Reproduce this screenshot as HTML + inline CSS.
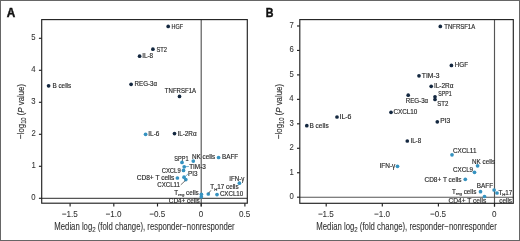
<!DOCTYPE html>
<html><head><meta charset="utf-8"><style>
html,body{margin:0;padding:0;background:#fff;}
svg{display:block;will-change:transform;font-family:"Liberation Sans",sans-serif;}
text{stroke:currentColor;stroke-width:0.16px;}
</style></head><body>
<svg width="520" height="241" viewBox="0 0 520 241">
<rect x="0.5" y="0.5" width="519" height="240" fill="none" stroke="#666" stroke-width="1"/>
<text font-weight="bold" style="stroke-width:0.45px" x="6.71" y="16.60" font-size="12" fill="#111" color="#111" textLength="8.50" lengthAdjust="spacingAndGlyphs">A</text>
<text font-weight="bold" style="stroke-width:0.45px" x="265.79" y="16.60" font-size="12" fill="#111" color="#111" textLength="7.70" lengthAdjust="spacingAndGlyphs">B</text>
<line x1="41.7" y1="198.3" x2="247.3" y2="198.3" stroke="#555" stroke-width="1.15"/>
<line x1="201.2" y1="19.6" x2="201.2" y2="206.5" stroke="#555" stroke-width="1.15"/>
<rect x="41.7" y="19.6" width="205.60" height="183.60" fill="none" stroke="#222" stroke-width="1.15"/>
<line x1="38.900000000000006" y1="198.3" x2="41.7" y2="198.3" stroke="#222" stroke-width="1.15"/>
<text style="stroke-width:0.08px" x="31.30" y="200.30" font-size="9" fill="#333" color="#333" textLength="4.30" lengthAdjust="spacingAndGlyphs">0</text>
<line x1="38.900000000000006" y1="166.3" x2="41.7" y2="166.3" stroke="#222" stroke-width="1.15"/>
<text style="stroke-width:0.08px" x="31.38" y="168.30" font-size="9" fill="#333" color="#333" textLength="4.30" lengthAdjust="spacingAndGlyphs">1</text>
<line x1="38.900000000000006" y1="134.3" x2="41.7" y2="134.3" stroke="#222" stroke-width="1.15"/>
<text style="stroke-width:0.08px" x="31.38" y="136.30" font-size="9" fill="#333" color="#333" textLength="4.30" lengthAdjust="spacingAndGlyphs">2</text>
<line x1="38.900000000000006" y1="102.30000000000001" x2="41.7" y2="102.30000000000001" stroke="#222" stroke-width="1.15"/>
<text style="stroke-width:0.08px" x="31.34" y="104.30" font-size="9" fill="#333" color="#333" textLength="4.30" lengthAdjust="spacingAndGlyphs">3</text>
<line x1="38.900000000000006" y1="70.30000000000001" x2="41.7" y2="70.30000000000001" stroke="#222" stroke-width="1.15"/>
<text style="stroke-width:0.08px" x="31.22" y="72.30" font-size="9" fill="#333" color="#333" textLength="4.30" lengthAdjust="spacingAndGlyphs">4</text>
<line x1="38.900000000000006" y1="38.30000000000001" x2="41.7" y2="38.30000000000001" stroke="#222" stroke-width="1.15"/>
<text style="stroke-width:0.08px" x="31.32" y="40.30" font-size="9" fill="#333" color="#333" textLength="4.30" lengthAdjust="spacingAndGlyphs">5</text>
<line x1="70.09999999999997" y1="203.2" x2="70.09999999999997" y2="206.5" stroke="#222" stroke-width="1.15"/>
<text style="stroke-width:0.08px" x="61.78" y="216.80" font-size="9" fill="#333" color="#333" textLength="15.99" lengthAdjust="spacingAndGlyphs">−1.5</text>
<line x1="113.79999999999998" y1="203.2" x2="113.79999999999998" y2="206.5" stroke="#222" stroke-width="1.15"/>
<text style="stroke-width:0.08px" x="105.46" y="216.80" font-size="9" fill="#333" color="#333" textLength="15.99" lengthAdjust="spacingAndGlyphs">−1.0</text>
<line x1="157.5" y1="203.2" x2="157.5" y2="206.5" stroke="#222" stroke-width="1.15"/>
<text style="stroke-width:0.08px" x="149.18" y="216.80" font-size="9" fill="#333" color="#333" textLength="15.99" lengthAdjust="spacingAndGlyphs">−0.5</text>
<line x1="201.2" y1="203.2" x2="201.2" y2="206.5" stroke="#222" stroke-width="1.15"/>
<text style="stroke-width:0.08px" x="198.65" y="216.80" font-size="9" fill="#333" color="#333" textLength="4.50" lengthAdjust="spacingAndGlyphs">0</text>
<line x1="244.89999999999998" y1="203.2" x2="244.89999999999998" y2="206.5" stroke="#222" stroke-width="1.15"/>
<text style="stroke-width:0.08px" x="238.98" y="216.80" font-size="9" fill="#333" color="#333" textLength="11.26" lengthAdjust="spacingAndGlyphs">0.5</text>
<text x="54.30" y="229.7" font-size="10.2" fill="#333" color="#333" style="stroke-width:0.1px" textLength="180.4" lengthAdjust="spacingAndGlyphs">Median log<tspan font-size="8" dy="2.4">2</tspan><tspan dy="-2.4"> (fold change), responder−nonresponder</tspan></text>
<g transform="translate(24.0,111.40) rotate(-90)"><text x="-27.5" y="0" font-size="9.6" fill="#333" color="#333" textLength="55" lengthAdjust="spacingAndGlyphs">−log<tspan font-size="7" dy="2.1">10</tspan><tspan dy="-2.1"> (</tspan><tspan font-style="italic">P</tspan> value)</text></g>
<line x1="299.8" y1="197.2" x2="513.3" y2="197.2" stroke="#555" stroke-width="1.15"/>
<line x1="494.5" y1="19.6" x2="494.5" y2="206.60000000000002" stroke="#555" stroke-width="1.15"/>
<rect x="299.8" y="19.6" width="213.50" height="183.70" fill="none" stroke="#222" stroke-width="1.15"/>
<line x1="297.0" y1="197.2" x2="299.8" y2="197.2" stroke="#222" stroke-width="1.15"/>
<text style="stroke-width:0.08px" x="289.40" y="199.20" font-size="9" fill="#333" color="#333" textLength="4.30" lengthAdjust="spacingAndGlyphs">0</text>
<line x1="297.0" y1="172.73999999999998" x2="299.8" y2="172.73999999999998" stroke="#222" stroke-width="1.15"/>
<text style="stroke-width:0.08px" x="289.48" y="174.74" font-size="9" fill="#333" color="#333" textLength="4.30" lengthAdjust="spacingAndGlyphs">1</text>
<line x1="297.0" y1="148.27999999999997" x2="299.8" y2="148.27999999999997" stroke="#222" stroke-width="1.15"/>
<text style="stroke-width:0.08px" x="289.48" y="150.28" font-size="9" fill="#333" color="#333" textLength="4.30" lengthAdjust="spacingAndGlyphs">2</text>
<line x1="297.0" y1="123.82" x2="299.8" y2="123.82" stroke="#222" stroke-width="1.15"/>
<text style="stroke-width:0.08px" x="289.44" y="125.82" font-size="9" fill="#333" color="#333" textLength="4.30" lengthAdjust="spacingAndGlyphs">3</text>
<line x1="297.0" y1="99.35999999999999" x2="299.8" y2="99.35999999999999" stroke="#222" stroke-width="1.15"/>
<text style="stroke-width:0.08px" x="289.32" y="101.36" font-size="9" fill="#333" color="#333" textLength="4.30" lengthAdjust="spacingAndGlyphs">4</text>
<line x1="297.0" y1="74.89999999999998" x2="299.8" y2="74.89999999999998" stroke="#222" stroke-width="1.15"/>
<text style="stroke-width:0.08px" x="289.42" y="76.90" font-size="9" fill="#333" color="#333" textLength="4.30" lengthAdjust="spacingAndGlyphs">5</text>
<line x1="297.0" y1="50.44" x2="299.8" y2="50.44" stroke="#222" stroke-width="1.15"/>
<text style="stroke-width:0.08px" x="289.44" y="52.44" font-size="9" fill="#333" color="#333" textLength="4.30" lengthAdjust="spacingAndGlyphs">6</text>
<line x1="297.0" y1="25.97999999999999" x2="299.8" y2="25.97999999999999" stroke="#222" stroke-width="1.15"/>
<text style="stroke-width:0.08px" x="289.48" y="27.98" font-size="9" fill="#333" color="#333" textLength="4.30" lengthAdjust="spacingAndGlyphs">7</text>
<line x1="326.2" y1="203.3" x2="326.2" y2="206.60000000000002" stroke="#222" stroke-width="1.15"/>
<text style="stroke-width:0.08px" x="317.88" y="216.80" font-size="9" fill="#333" color="#333" textLength="15.99" lengthAdjust="spacingAndGlyphs">−1.5</text>
<line x1="382.3" y1="203.3" x2="382.3" y2="206.60000000000002" stroke="#222" stroke-width="1.15"/>
<text style="stroke-width:0.08px" x="373.96" y="216.80" font-size="9" fill="#333" color="#333" textLength="15.99" lengthAdjust="spacingAndGlyphs">−1.0</text>
<line x1="438.4" y1="203.3" x2="438.4" y2="206.60000000000002" stroke="#222" stroke-width="1.15"/>
<text style="stroke-width:0.08px" x="430.08" y="216.80" font-size="9" fill="#333" color="#333" textLength="15.99" lengthAdjust="spacingAndGlyphs">−0.5</text>
<line x1="494.5" y1="203.3" x2="494.5" y2="206.60000000000002" stroke="#222" stroke-width="1.15"/>
<text style="stroke-width:0.08px" x="491.95" y="216.80" font-size="9" fill="#333" color="#333" textLength="4.50" lengthAdjust="spacingAndGlyphs">0</text>
<text x="316.35" y="229.7" font-size="10.2" fill="#333" color="#333" style="stroke-width:0.1px" textLength="180.4" lengthAdjust="spacingAndGlyphs">Median log<tspan font-size="8" dy="2.4">2</tspan><tspan dy="-2.4"> (fold change), responder−nonresponder</tspan></text>
<g transform="translate(281.6,111.45) rotate(-90)"><text x="-27.5" y="0" font-size="9.6" fill="#333" color="#333" textLength="55" lengthAdjust="spacingAndGlyphs">−log<tspan font-size="7" dy="2.1">10</tspan><tspan dy="-2.1"> (</tspan><tspan font-style="italic">P</tspan> value)</text></g>
<text x="171.55" y="28.60" font-size="6.3" fill="#2b2b2b" color="#2b2b2b" textLength="11.57" lengthAdjust="spacingAndGlyphs">HGF</text>
<text x="156.44" y="51.60" font-size="6.3" fill="#2b2b2b" color="#2b2b2b" textLength="10.55" lengthAdjust="spacingAndGlyphs">ST2</text>
<text x="142.21" y="58.30" font-size="6.3" fill="#2b2b2b" color="#2b2b2b" textLength="10.96" lengthAdjust="spacingAndGlyphs">IL-8</text>
<text x="52.48" y="88.00" font-size="6.3" fill="#2b2b2b" color="#2b2b2b" textLength="18.65" lengthAdjust="spacingAndGlyphs">B cells</text>
<text x="134.59" y="86.10" font-size="6.3" fill="#2b2b2b" color="#2b2b2b" textLength="22.49" lengthAdjust="spacingAndGlyphs">REG-3α</text>
<text x="164.87" y="93.10" font-size="6.3" fill="#2b2b2b" color="#2b2b2b" textLength="31.25" lengthAdjust="spacingAndGlyphs">TNFRSF1A</text>
<text x="148.30" y="136.40" font-size="6.3" fill="#2b2b2b" color="#2b2b2b" textLength="11.18" lengthAdjust="spacingAndGlyphs">IL-6</text>
<text x="177.42" y="135.70" font-size="6.3" fill="#2b2b2b" color="#2b2b2b" textLength="19.17" lengthAdjust="spacingAndGlyphs">IL-2Rα</text>
<text x="174.24" y="160.50" font-size="6.3" fill="#2b2b2b" color="#2b2b2b" textLength="14.33" lengthAdjust="spacingAndGlyphs">SPP1</text>
<text x="191.98" y="158.60" font-size="6.3" fill="#2b2b2b" color="#2b2b2b" textLength="23.14" lengthAdjust="spacingAndGlyphs">NK cells</text>
<text x="222.08" y="159.30" font-size="6.3" fill="#2b2b2b" color="#2b2b2b" textLength="16.06" lengthAdjust="spacingAndGlyphs">BAFF</text>
<text x="189.16" y="168.70" font-size="6.3" fill="#2b2b2b" color="#2b2b2b" textLength="16.72" lengthAdjust="spacingAndGlyphs">TIM-3</text>
<text x="161.70" y="172.50" font-size="6.3" fill="#2b2b2b" color="#2b2b2b" textLength="18.97" lengthAdjust="spacingAndGlyphs">CXCL9</text>
<text x="187.98" y="175.50" font-size="6.3" fill="#2b2b2b" color="#2b2b2b" textLength="9.50" lengthAdjust="spacingAndGlyphs">PI3</text>
<text x="136.66" y="179.90" font-size="6.3" fill="#2b2b2b" color="#2b2b2b" textLength="37.68" lengthAdjust="spacingAndGlyphs">CD8+ T cells</text>
<text x="157.29" y="187.10" font-size="6.3" fill="#2b2b2b" color="#2b2b2b" textLength="22.61" lengthAdjust="spacingAndGlyphs">CXCL11</text>
<text x="168.77" y="203.00" font-size="6.3" fill="#2b2b2b" color="#2b2b2b" textLength="31.05" lengthAdjust="spacingAndGlyphs">CD4+ cells</text>
<text x="219.88" y="196.30" font-size="6.3" fill="#2b2b2b" color="#2b2b2b" textLength="23.35" lengthAdjust="spacingAndGlyphs">CXCL10</text>
<text x="229.33" y="180.60" font-size="6.3" fill="#2b2b2b" color="#2b2b2b" textLength="15.09" lengthAdjust="spacingAndGlyphs">IFN-γ</text>
<text x="444.27" y="28.50" font-size="6.3" fill="#2b2b2b" color="#2b2b2b" textLength="30.94" lengthAdjust="spacingAndGlyphs">TNFRSF1A</text>
<text x="454.78" y="67.00" font-size="6.3" fill="#2b2b2b" color="#2b2b2b" textLength="13.27" lengthAdjust="spacingAndGlyphs">HGF</text>
<text x="421.85" y="77.60" font-size="6.3" fill="#2b2b2b" color="#2b2b2b" textLength="17.54" lengthAdjust="spacingAndGlyphs">TIM-3</text>
<text x="433.91" y="88.00" font-size="6.3" fill="#2b2b2b" color="#2b2b2b" textLength="19.48" lengthAdjust="spacingAndGlyphs">IL-2Rα</text>
<text x="438.26" y="96.00" font-size="6.3" fill="#2b2b2b" color="#2b2b2b" textLength="13.40" lengthAdjust="spacingAndGlyphs">SPP1</text>
<text x="437.22" y="105.50" font-size="6.3" fill="#2b2b2b" color="#2b2b2b" textLength="11.08" lengthAdjust="spacingAndGlyphs">ST2</text>
<text x="405.69" y="102.80" font-size="6.3" fill="#2b2b2b" color="#2b2b2b" textLength="22.49" lengthAdjust="spacingAndGlyphs">REG-3α</text>
<text x="393.38" y="114.40" font-size="6.3" fill="#2b2b2b" color="#2b2b2b" textLength="23.87" lengthAdjust="spacingAndGlyphs">CXCL10</text>
<text x="339.46" y="119.30" font-size="6.3" fill="#2b2b2b" color="#2b2b2b" textLength="12.05" lengthAdjust="spacingAndGlyphs">IL-6</text>
<text x="309.47" y="128.00" font-size="6.3" fill="#2b2b2b" color="#2b2b2b" textLength="19.17" lengthAdjust="spacingAndGlyphs">B cells</text>
<text x="440.25" y="123.20" font-size="6.3" fill="#2b2b2b" color="#2b2b2b" textLength="10.04" lengthAdjust="spacingAndGlyphs">PI3</text>
<text x="410.43" y="142.80" font-size="6.3" fill="#2b2b2b" color="#2b2b2b" textLength="10.74" lengthAdjust="spacingAndGlyphs">IL-8</text>
<text x="452.98" y="153.10" font-size="6.3" fill="#2b2b2b" color="#2b2b2b" textLength="23.44" lengthAdjust="spacingAndGlyphs">CXCL11</text>
<text x="379.40" y="167.50" font-size="6.3" fill="#2b2b2b" color="#2b2b2b" textLength="15.92" lengthAdjust="spacingAndGlyphs">IFN-γ</text>
<text x="472.08" y="163.50" font-size="6.3" fill="#2b2b2b" color="#2b2b2b" textLength="23.04" lengthAdjust="spacingAndGlyphs">NK cells</text>
<text x="452.98" y="171.50" font-size="6.3" fill="#2b2b2b" color="#2b2b2b" textLength="20.11" lengthAdjust="spacingAndGlyphs">CXCL9</text>
<text x="424.47" y="181.50" font-size="6.3" fill="#2b2b2b" color="#2b2b2b" textLength="37.07" lengthAdjust="spacingAndGlyphs">CD8+ T cells</text>
<text x="476.78" y="187.60" font-size="6.3" fill="#2b2b2b" color="#2b2b2b" textLength="16.27" lengthAdjust="spacingAndGlyphs">BAFF</text>
<text x="499.23" y="202.60" font-size="6.3" fill="#2b2b2b" color="#2b2b2b" textLength="12.80" lengthAdjust="spacingAndGlyphs">cells</text>
<text x="448.46" y="202.80" font-size="6.3" fill="#2b2b2b" color="#2b2b2b" textLength="37.78" lengthAdjust="spacingAndGlyphs">CD4+ T cells</text>
<text x="174.3" y="194.8" font-size="6.3" fill="#2b2b2b" color="#2b2b2b">T<tspan font-size="4.3" dy="1.6">reg</tspan><tspan dy="-1.6"> cells</tspan></text>
<text x="210.3" y="189.1" font-size="6.3" fill="#2b2b2b" color="#2b2b2b">T<tspan font-size="4.3" dy="1.6">H</tspan><tspan dy="-1.6">17 cells</tspan></text>
<text x="451.9" y="193.8" font-size="6.3" fill="#2b2b2b" color="#2b2b2b">T<tspan font-size="4.3" dy="1.6">reg</tspan><tspan dy="-1.6"> cells</tspan></text>
<text x="498.4" y="194.5" font-size="6.3" fill="#2b2b2b" color="#2b2b2b">T<tspan font-size="4.3" dy="1.6">H</tspan><tspan dy="-1.6">17</tspan></text>
<circle cx="168.2" cy="26.4" r="1.85" fill="#142840"/>
<circle cx="152.9" cy="49.2" r="1.85" fill="#142840"/>
<circle cx="139.6" cy="56.2" r="1.85" fill="#142840"/>
<circle cx="48.6" cy="85.8" r="1.85" fill="#142840"/>
<circle cx="131.1" cy="84.3" r="1.85" fill="#142840"/>
<circle cx="179.5" cy="96.4" r="1.85" fill="#142840"/>
<circle cx="145.6" cy="134.3" r="1.85" fill="#3592c0"/>
<circle cx="174.5" cy="133.6" r="1.85" fill="#142840"/>
<circle cx="182.0" cy="162.4" r="1.85" fill="#3592c0"/>
<circle cx="193.3" cy="161.1" r="1.85" fill="#3592c0"/>
<circle cx="218.6" cy="157.5" r="1.85" fill="#3592c0"/>
<circle cx="184.2" cy="166.8" r="1.85" fill="#3592c0"/>
<circle cx="183.5" cy="170.4" r="1.85" fill="#3592c0"/>
<circle cx="184.0" cy="177.2" r="1.85" fill="#3592c0"/>
<circle cx="185.8" cy="179.6" r="1.85" fill="#3592c0"/>
<circle cx="177.4" cy="178.0" r="1.85" fill="#3592c0"/>
<circle cx="201.4" cy="194.3" r="1.85" fill="#3592c0"/>
<circle cx="201.3" cy="196.8" r="1.85" fill="#3592c0"/>
<circle cx="208.3" cy="194.0" r="1.85" fill="#3592c0"/>
<circle cx="217.0" cy="194.6" r="1.85" fill="#3592c0"/>
<circle cx="239.4" cy="183.2" r="1.85" fill="#3592c0"/>
<circle cx="440.3" cy="26.4" r="1.85" fill="#142840"/>
<circle cx="451.4" cy="65.4" r="1.85" fill="#142840"/>
<circle cx="419.0" cy="75.8" r="1.85" fill="#142840"/>
<circle cx="431.2" cy="86.3" r="1.85" fill="#142840"/>
<circle cx="435.0" cy="96.8" r="1.85" fill="#142840"/>
<circle cx="435.0" cy="99.5" r="1.85" fill="#142840"/>
<circle cx="408.2" cy="95.2" r="1.85" fill="#142840"/>
<circle cx="391.0" cy="112.3" r="1.85" fill="#142840"/>
<circle cx="337.0" cy="117.0" r="1.85" fill="#142840"/>
<circle cx="306.8" cy="125.7" r="1.85" fill="#142840"/>
<circle cx="437.3" cy="121.8" r="1.85" fill="#142840"/>
<circle cx="407.3" cy="141.0" r="1.85" fill="#142840"/>
<circle cx="452.0" cy="154.8" r="1.85" fill="#3592c0"/>
<circle cx="397.5" cy="166.3" r="1.85" fill="#3592c0"/>
<circle cx="477.6" cy="165.8" r="1.85" fill="#3592c0"/>
<circle cx="474.5" cy="172.3" r="1.85" fill="#3592c0"/>
<circle cx="465.3" cy="179.3" r="1.85" fill="#3592c0"/>
<circle cx="494.1" cy="190.0" r="1.85" fill="#3592c0"/>
<circle cx="480.5" cy="191.7" r="1.85" fill="#3592c0"/>
<circle cx="497.0" cy="193.0" r="1.85" fill="#3592c0"/>
<circle cx="484.5" cy="196.5" r="1.85" fill="#3592c0"/>
<line x1="185.3" y1="166.7" x2="188.9" y2="166.5" stroke="#3592c0" stroke-width="0.7"/>
<line x1="188.3" y1="173.6" x2="185.2" y2="176.6" stroke="#3592c0" stroke-width="0.7"/>
<line x1="180.8" y1="184.8" x2="185.3" y2="180.6" stroke="#222" stroke-width="0.65"/>
<line x1="208.6" y1="193.2" x2="210.9" y2="190.4" stroke="#222" stroke-width="0.7"/>
</svg>
</body></html>
